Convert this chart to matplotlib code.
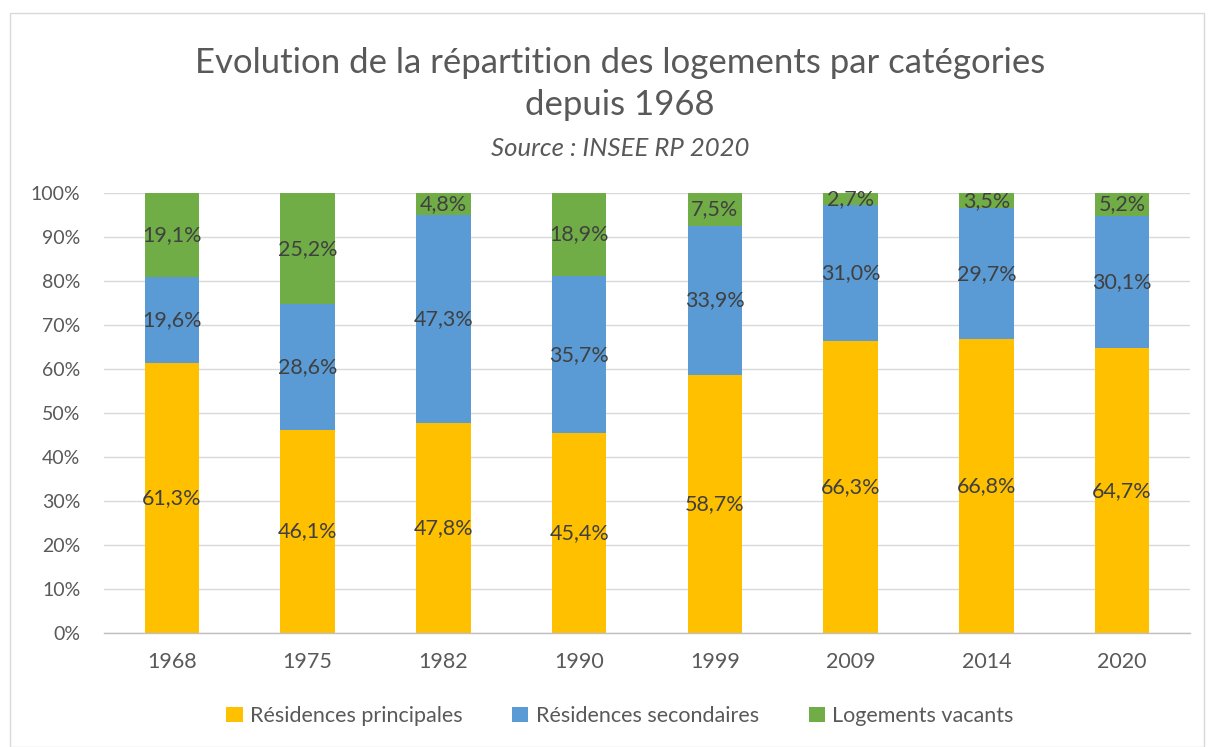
import matplotlib
matplotlib.use("Agg")
import matplotlib.pyplot as plt
from matplotlib.patches import Rectangle
import numpy as np

years = ["1968", "1975", "1982", "1990", "1999", "2009", "2014", "2020"]
principales = [61.3, 46.1, 47.8, 45.4, 58.7, 66.3, 66.8, 64.7]
secondaires = [19.6, 28.6, 47.3, 35.7, 33.9, 31.0, 29.7, 30.1]
vacants = [19.1, 25.2, 4.8, 18.9, 7.5, 2.7, 3.5, 5.2]
series_names = ["Résidences principales", "Résidences secondaires", "Logements vacants"]
colors = ["#FFC000", "#5B9BD5", "#70AD47"]
yticks = [0, 10, 20, 30, 40, 50, 60, 70, 80, 90, 100]

plt.rcParams['font.family'] = ['Lato', 'DejaVu Sans']
W, H = 1209, 747
fig = plt.figure(figsize=(W/100, H/100), dpi=100)
fig.patches.append(Rectangle((10/W, 0), (1204-10)/W, (H-13)/H, transform=fig.transFigure,
                             fill=False, edgecolor="#D9D9D9", linewidth=1))

ax = fig.add_axes([104/W, 1-633/H, (1190-104)/W, (633-193)/H])
x = np.arange(len(years))
txtc = "#404040"
bottom = np.zeros(len(years))
for vals, name, c in zip([principales, secondaires, vacants], series_names, colors):
    vals = np.array(vals)
    ax.bar(x, vals, 0.4, bottom=bottom, color=c, label=name, zorder=3)
    for xi, b, v in zip(x, bottom, vals):
        ax.text(xi, b + v/2, f"{v:.1f}%".replace(".", ","), ha="center", va="center",
                fontsize=15.5, color=txtc, zorder=4)
    bottom = bottom + vals

ax.set_xlim(-0.5, len(years) - 0.5)
ax.set_ylim(0, 100)
ax.set_yticks(yticks)
ax.set_yticklabels([f"{t}%" for t in yticks])
ax.set_xticks(x)
ax.set_xticklabels(years)
ax.tick_params(axis="both", length=0, colors="#595959")
ax.tick_params(axis="y", pad=17, labelsize=14)
ax.tick_params(axis="x", pad=14, labelsize=15.5)
ax.grid(axis="y", color="#D9D9D9", linewidth=1, zorder=0)
for s in ["top", "right", "left"]:
    ax.spines[s].set_visible(False)
ax.spines["bottom"].set_color("#BFBFBF")
ax.spines["bottom"].set_linewidth(1)
ax.spines["bottom"].set_zorder(5)

fig.text(620/W, 1-63/H, "Evolution de la répartition des logements par catégories",
         ha="center", va="center", fontsize=25, color="#595959")
fig.text(620/W, 1-105/H, "depuis 1968", ha="center", va="center", fontsize=25, color="#595959")
fig.text(620/W, 1-149/H, "Source : INSEE RP 2020", ha="center", va="center", fontsize=18.5,
         color="#595959", style="italic")

leg = fig.legend(loc="center", bbox_to_anchor=(620/W, 1-716/H), ncol=3, frameon=False,
                 fontsize=15.5, handlelength=0.75, handleheight=0.75, columnspacing=2.3,
                 handletextpad=0.35)
for t in leg.get_texts():
    t.set_color("#595959")

fig.savefig("out.png", dpi=100)
